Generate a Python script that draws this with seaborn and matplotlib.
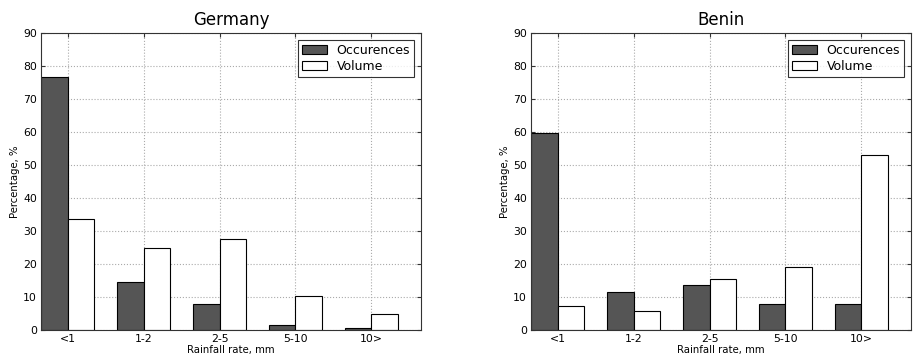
import matplotlib
matplotlib.use("Agg")
import matplotlib.pyplot as plt
import seaborn as sns
import pandas as pd

categories = ["<1", "1-2", "2-5", "5-10", "10>"]
series_names = ["Occurences", "Volume"]
germany_occ = [76.7, 14.4, 7.8, 1.3, 0.4]
germany_vol = [33.5, 24.7, 27.4, 10.1, 4.7]
benin_occ = [59.7, 11.3, 13.6, 7.8, 7.8]
benin_vol = [7.2, 5.7, 15.3, 18.9, 53.0]
titles = ["Germany", "Benin"]
yticks = list(range(0, 91, 10))

sns.set_style("white")
plt.rcParams['font.family'] = ['DejaVu Sans']
plt.rcParams['text.color'] = 'black'
plt.rcParams['axes.labelcolor'] = 'black'
plt.rcParams['xtick.color'] = 'black'
plt.rcParams['ytick.color'] = 'black'

def make_df(occ, vol):
    rows = []
    for c, o, v in zip(categories, occ, vol):
        rows.append({"cat": c, "series": series_names[0], "val": o})
        rows.append({"cat": c, "series": series_names[1], "val": v})
    return pd.DataFrame(rows)

fig = plt.figure(figsize=(9.13, 3.6), dpi=100)
lefts = [0.0449, 0.5816]
palette = {series_names[0]: "#555555", series_names[1]: "#ffffff"}

for left, title, occ, vol in zip(lefts, titles, [germany_occ, benin_occ], [germany_vol, benin_vol]):
    ax = fig.add_axes([left, 0.0842, 0.416, 0.8233])
    df = make_df(occ, vol)
    sns.barplot(data=df, x="cat", y="val", hue="series", order=categories,
                hue_order=series_names, palette=palette, width=0.7,
                edgecolor="black", linewidth=0.8, ax=ax, legend=True)
    ax.set_xlim(-0.35, 4.65)
    ax.set_ylim(0, 90)
    ax.set_yticks(yticks)
    ax.set_xticks(range(len(categories)))
    ax.set_xticklabels(categories)
    ax.grid(True, linestyle=":", color="#aaaaaa", linewidth=0.8)
    ax.set_axisbelow(True)
    for s in ax.spines.values():
        s.set_visible(True)
        s.set_color("#333333")
        s.set_linewidth(0.8)
    ax.tick_params(direction="in", length=3, labelsize=7.8, top=True, right=True,
                   bottom=True, left=True, pad=3, color="#333333")
    ax.set_title(title, fontsize=12, pad=6, color="black")
    ax.set_xlabel("Rainfall rate, mm", fontsize=7.3, labelpad=1)
    ax.set_ylabel("Percentage, %", fontsize=7.3, labelpad=2)
    leg = ax.legend(loc="upper right", fontsize=9, fancybox=False, frameon=True,
                    edgecolor="black", borderpad=0.3, handlelength=2.0,
                    handleheight=0.8, labelspacing=0.25, borderaxespad=0.55)
    leg.get_frame().set_linewidth(0.8)
    leg.set_title(None)

fig.savefig("out.png", dpi=100)
